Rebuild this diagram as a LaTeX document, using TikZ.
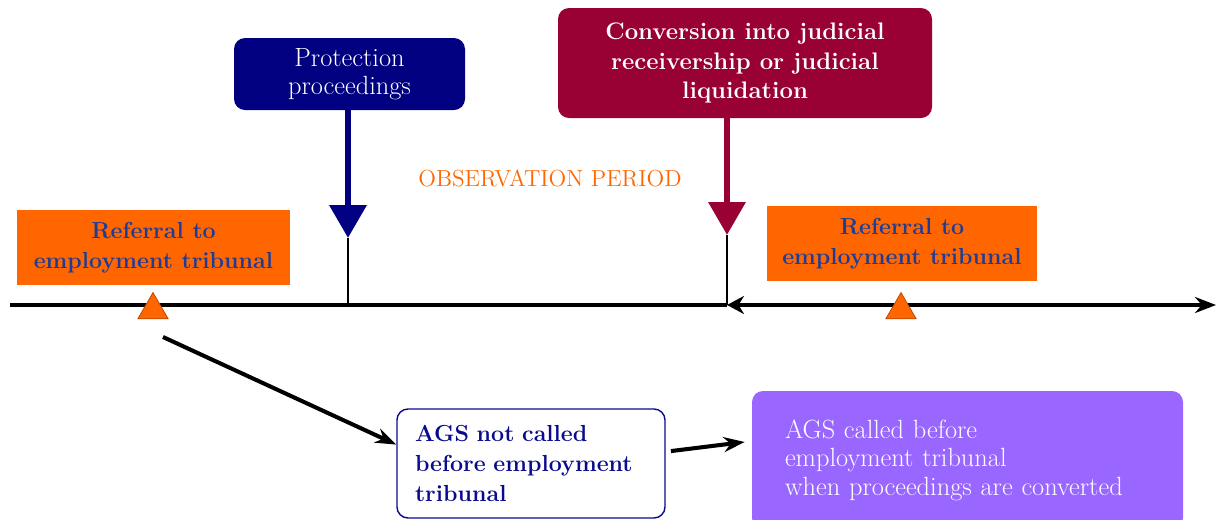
\documentclass[tikz,border=0pt]{standalone}
\usepackage{tikz}
\usetikzlibrary{arrows.meta,positioning,shapes.geometric}
\definecolor{reforange}{RGB}{255,102,0}
\definecolor{refblue}{RGB}{30,60,150}
\definecolor{protblue}{RGB}{0,0,128}
\definecolor{convred}{RGB}{153,0,51}
\definecolor{agsnavy}{RGB}{10,10,140}
\definecolor{agspurple}{RGB}{153,102,255}
\tikzset{
    ref box/.style={fill=reforange,text=refblue,font=\bfseries\fontsize{13.2}{17}\selectfont,align=center,minimum width=5.46cm,minimum height=1.5cm,inner sep=2pt},
    event box/.style={rounded corners=0.22cm,text=white,align=center,inner sep=2pt},
    ags box/.style={rounded corners=0.22cm,align=left,inner ysep=2pt},
    event arr/.style={-{Triangle[width=0.72cm,length=0.66cm]},line width=3.8pt},
    stick/.style={thick,black},
    axis/.style={line width=2.8pt,black},
    marker/.style={regular polygon,regular polygon sides=3,minimum size=0.7cm,inner sep=0pt,fill=reforange,draw=reforange!70!black,thin},
    conn/.style={-{Stealth[length=0.42cm,width=0.3cm]},line width=2.3pt},
}
\begin{document}
\begin{tikzpicture}
    \useasboundingbox (0,0) rectangle (24.38,-10.38);
    \coordinate (ax-l) at (0.2,-6.1);
    \coordinate (ax-r) at (24.32,-6.1);
    \coordinate (prot-tip) at (6.96,-4.76);
    \coordinate (conv-tip) at (14.54,-4.7);
    \coordinate (refl-out) at (3.26,-6.74);

    \node[ref box] (refl) at (3.07,-4.95) {Referral to\\employment tribunal};
    \node[ref box,minimum width=5.4cm] (refr) at (18.04,-4.87) {Referral to\\employment tribunal};
    \node[event box,fill=protblue,font=\fontsize{15}{16}\selectfont,minimum width=4.62cm,minimum height=1.44cm] (prot) at (6.99,-1.48) {Protection\\proceedings};
    \node[event box,fill=convred,font=\bfseries\fontsize{13.6}{17}\selectfont,minimum width=7.48cm,minimum height=2.2cm] (conv) at (14.9,-1.26) {Conversion into judicial\\receivership or judicial\\liquidation};
    \node[text=reforange,font=\fontsize{13.2}{15}\selectfont] (obs) at (11.0,-3.56) {OBSERVATION PERIOD};

    \draw[event arr,protblue] (prot.south -| prot-tip) -- (prot-tip);
    \draw[event arr,convred] (conv.south -| conv-tip) -- (conv-tip);
    \draw[stick] (prot-tip) -- (prot-tip |- ax-l);
    \draw[stick] (conv-tip) -- (conv-tip |- ax-l);
    \draw[axis] (ax-l) -- (conv-tip |- ax-l);
    \draw[axis,{Stealth[length=0.34cm,width=0.36cm]}-{Stealth[length=0.42cm,width=0.32cm]}] (conv-tip |- ax-l) -- (ax-r);
    \node[marker] (tri-l) at (3.06,-6.2) {};
    \node[marker] (tri-r) at (18.02,-6.2) {};

    \node[ags box,draw=agsnavy,thick,fill=white,text=agsnavy,font=\bfseries\fontsize{13.2}{17}\selectfont,text width=4.64cm,inner xsep=0.36cm,minimum height=2.18cm] (agsnot) at (10.62,-9.27) {AGS not called\\before employment\\tribunal};
    \node[ags box,fill=agspurple,text=white,font=\fontsize{15}{16.2}\selectfont,text width=7.3cm,inner xsep=0.66cm,minimum height=2.76cm] (agscalled) at (19.35,-9.2) {AGS called before\\employment tribunal\\when proceedings are converted};

    \draw[conn] (refl-out) -- (agsnot.172);
    \draw[conn,shorten <=3pt,shorten >=4pt] (agsnot.5) -- (agscalled.175);
\end{tikzpicture}
\end{document}
